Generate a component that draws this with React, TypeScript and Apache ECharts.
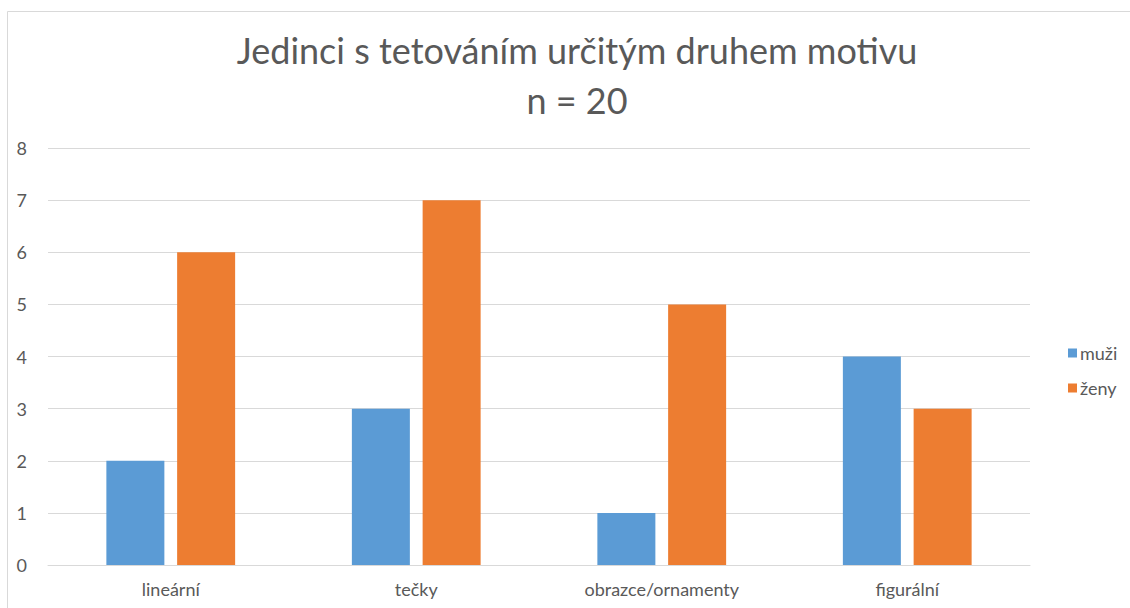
import React, { useEffect, useRef } from "react";
import * as echarts from "echarts";

const categories = ["lineární", "tečky", "obrazce/ornamenty", "figurální"];
const muzi = [2, 3, 1, 4];
const zeny = [6, 7, 5, 3];
const titleText = "Jedinci s tetováním určitým druhem motivu\nn = 20";

export default function App() {
  const ref = useRef<HTMLDivElement>(null);
  useEffect(() => {
    if (!ref.current) return;
    const chart = echarts.init(ref.current, null, { renderer: "svg" });
    const font = "Lato, 'Open Sans', sans-serif";
    chart.setOption({
      animation: false,
      textStyle: { fontFamily: font },
      graphic: [
        {
          type: "rect",
          shape: { x: 7.5, y: 11.5, width: 1300, height: 800 },
          style: { fill: "none", stroke: "#d9d9d9", lineWidth: 1 },
          silent: true,
          z: -1,
        },
      ],
      title: {
        text: titleText,
        left: 572,
        top: 20,
        textAlign: "center",
        textStyle: {
          fontFamily: font,
          fontSize: 36,
          fontWeight: "normal",
          color: "#595959",
          lineHeight: 50,
        },
      },
      legend: {
        orient: "vertical",
        left: 1063,
        top: 339,
        itemWidth: 9,
        itemHeight: 9,
        itemGap: 17,
        icon: "rect",
        textStyle: { fontFamily: font, fontSize: 18, color: "#595959", padding: [0, 0, 0, -2] },
        data: ["muži", "ženy"],
      },
      grid: { left: 48, right: 100, top: 148, bottom: 43, containLabel: false },
      xAxis: {
        type: "category",
        data: categories,
        axisLine: { lineStyle: { color: "#d9d9d9" } },
        axisTick: { show: false },
        axisLabel: { fontFamily: font, fontSize: 18, color: "#595959", margin: 15 },
      },
      yAxis: {
        type: "value",
        min: 0,
        max: 8,
        interval: 1,
        axisLine: { show: false },
        axisTick: { show: false },
        splitLine: { lineStyle: { color: "#d9d9d9" } },
        axisLabel: { fontFamily: font, fontSize: 18, color: "#595959", margin: 21 },
      },
      series: [
        {
          name: "muži",
          type: "bar",
          data: muzi,
          barWidth: 58,
          barGap: "22%",
          itemStyle: { color: "#5B9BD5" },
        },
        {
          name: "ženy",
          type: "bar",
          data: zeny,
          barWidth: 58,
          barGap: "22%",
          itemStyle: { color: "#ED7D31" },
        },
      ],
    });
    return () => chart.dispose();
  }, []);
  return (
    <div style={{ position: "absolute", left: 0, top: 0, width: 1130, height: 608, background: "#fff" }}>
      <div ref={ref} style={{ width: 1130, height: 608 }} />
    </div>
  );
}
